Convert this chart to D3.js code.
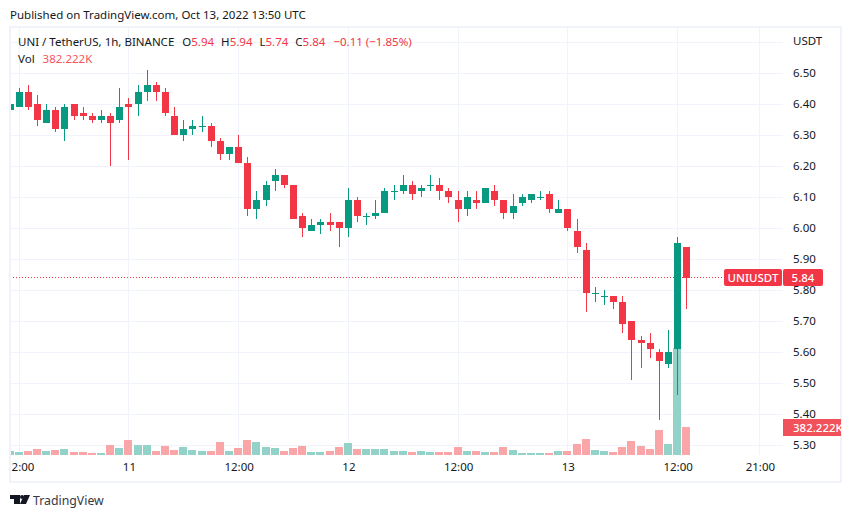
<!DOCTYPE html>
<html>
<head>
<meta charset="utf-8">
<script src="https://cdn.jsdelivr.net/npm/d3@7"></script>
<style>
  html, body { margin: 0; padding: 0; background: #fff; }
  svg { display: block; }
  text { font-family: "Noto Sans", sans-serif; font-size: 11.5px; fill: #131722; }
</style>
</head>
<body>
<svg id="chart" width="851" height="518"></svg>
<script>
// hourly candles, first one is Oct 10 11:00
const opens = [6.38,6.39,6.44,6.40,6.34,6.38,6.32,6.40,6.37,6.36,6.35,6.36,6.35,6.40,6.40,6.44,6.46,6.44,6.36,6.30,6.32,6.33,6.33,6.28,6.24,6.26,6.21,6.06,6.09,6.15,6.17,6.14,6.04,5.99,6.01,6.02,6.02,6.00,6.09,6.04,6.04,6.05,6.12,6.12,6.14,6.12,6.14,6.14,6.12,6.09,6.06,6.09,6.08,6.12,6.09,6.05,6.08,6.09,6.10,6.11,6.05,6.06,5.99,5.93,5.79,5.78,5.78,5.76,5.70,5.64,5.63,5.60,5.56,5.61,5.94];
const highs = [6.42,6.45,6.46,6.43,6.40,6.39,6.40,6.40,6.39,6.37,6.38,6.37,6.45,6.42,6.46,6.51,6.47,6.45,6.39,6.35,6.35,6.36,6.34,6.29,6.26,6.30,6.23,6.12,6.15,6.19,6.17,6.14,6.05,6.03,6.03,6.05,6.02,6.13,6.10,6.05,6.09,6.13,6.14,6.17,6.15,6.14,6.17,6.16,6.13,6.12,6.12,6.12,6.13,6.14,6.09,6.11,6.11,6.11,6.12,6.12,6.09,6.06,6.03,5.95,5.81,5.80,5.78,5.78,5.70,5.65,5.66,5.61,5.67,5.97,5.94];
const lows = [6.37,6.39,6.38,6.33,6.34,6.31,6.28,6.35,6.35,6.34,6.34,6.20,6.34,6.22,6.36,6.41,6.41,6.36,6.30,6.28,6.30,6.31,6.26,6.22,6.22,6.21,6.04,6.03,6.07,6.12,6.13,6.03,5.97,5.99,5.98,5.99,5.94,5.97,6.02,6.01,6.03,6.05,6.09,6.11,6.09,6.10,6.12,6.09,6.08,6.02,6.04,6.06,6.08,6.07,6.03,6.03,6.07,6.08,6.09,6.05,6.05,5.99,5.92,5.73,5.76,5.75,5.74,5.66,5.51,5.55,5.58,5.38,5.55,5.46,5.74];
const closes = [6.40,6.44,6.39,6.35,6.38,6.32,6.39,6.36,6.36,6.35,6.36,6.34,6.39,6.39,6.44,6.46,6.44,6.37,6.30,6.32,6.33,6.33,6.28,6.24,6.26,6.21,6.06,6.09,6.14,6.17,6.14,6.03,6.00,6.01,6.02,6.01,6.00,6.09,6.04,6.04,6.05,6.12,6.12,6.14,6.11,6.13,6.14,6.12,6.10,6.06,6.10,6.08,6.13,6.09,6.05,6.07,6.10,6.11,6.10,6.06,6.06,6.00,5.94,5.79,5.79,5.78,5.76,5.69,5.64,5.63,5.61,5.57,5.60,5.95,5.84];
const volumes = [55,41,55,82,55,68,82,41,41,27,27,137,96,205,137,137,55,123,68,109,68,55,55,177,55,96,205,177,109,96,55,96,123,41,41,55,109,164,82,82,82,82,55,55,41,55,41,41,41,109,55,55,41,41,109,68,27,27,27,27,55,55,150,218,68,55,41,109,191,123,82,341,150,1460,382.222];

const priceTicks = [5.3,5.4,5.5,5.6,5.7,5.8,5.9,6.0,6.1,6.2,6.3,6.4,6.5];
const gridPrices = [...priceTicks, 6.6];
const timeTicks = [1,13,25,37,49,61,73,82];
const timeLabels = ["12:00","11","12:00","12","12:00","13","12:00","21:00"];

const lastPrice = 5.84;
const lastVolume = 382.222;

const green = "#089981", red = "#f23645";
const greenVol = "#92d2c8", redVol = "#faa5a8";
const gridColor = "#f0f3fa";

const svg = d3.select("#chart");

let x = d3.scaleLinear().domain([1, 73]).range([19.2, 677.6]);
let y = d3.scaleLinear().domain([5.3, 6.5]).range([445.5, 73.5]);
let yVol = d3.scaleLinear().domain([0, 1460]).range([455, 348]);

const px = i => Math.floor(x(i)) + 0.5;
const py = p => Math.round(y(p) - 0.5);

// clip for everything in the pane
let defs = svg.append("defs");
defs.append("clipPath").attr("id", "pane")
  .append("rect").attr("x", 10).attr("y", 28).attr("width", 773).attr("height", 427);
defs.append("clipPath").attr("id", "timeClip")
  .append("rect").attr("x", 10).attr("y", 455).attr("width", 773).attr("height", 26);
defs.append("clipPath").attr("id", "volClip")
  .append("rect").attr("x", 783).attr("y", 400).attr("width", 58).attr("height", 50);

// header
svg.append("text").attr("x", 10).attr("y", 19).attr("id", "published")
  .text("Published on TradingView.com, Oct 13, 2022 13:50 UTC");

// grid
let pane = svg.append("g").attr("clip-path", "url(#pane)");
pane.append("g").selectAll("line").data(gridPrices).join("line")
  .attr("x1", 10).attr("x2", 783)
  .attr("y1", d => py(d) + 0.5).attr("y2", d => py(d) + 0.5)
  .attr("stroke", gridColor);
pane.append("g").selectAll("line").data(timeTicks).join("line")
  .attr("x1", d => px(d)).attr("x2", d => px(d))
  .attr("y1", 28).attr("y2", 455)
  .attr("stroke", gridColor);

// volume
pane.append("g").selectAll("rect").data(volumes).join("rect")
  .attr("x", (d, i) => px(i) - 4.5)
  .attr("width", 8)
  .attr("y", d => Math.round(yVol(d)))
  .attr("height", d => 455 - Math.round(yVol(d)))
  .attr("fill", (d, i) => closes[i] >= opens[i] ? greenVol : redVol);

// last price line
pane.append("line")
  .attr("x1", 10).attr("x2", 724)
  .attr("y1", py(lastPrice) - 0.5).attr("y2", py(lastPrice) - 0.5)
  .attr("stroke", red).attr("stroke-dasharray", "1,2");

// candles
let candles = pane.append("g").selectAll("g").data(opens).join("g");
candles.append("line")
  .attr("x1", (d, i) => px(i)).attr("x2", (d, i) => px(i))
  .attr("y1", (d, i) => py(highs[i])).attr("y2", (d, i) => py(lows[i]))
  .attr("stroke", (d, i) => closes[i] >= opens[i] ? green : red);
candles.append("rect")
  .attr("x", (d, i) => px(i) - 3.5)
  .attr("width", 7)
  .attr("y", (d, i) => py(Math.max(opens[i], closes[i])))
  .attr("height", (d, i) => Math.max(1, py(Math.min(opens[i], closes[i])) - py(Math.max(opens[i], closes[i]))))
  .attr("fill", (d, i) => closes[i] >= opens[i] ? green : red);

// price axis
let yAxis = d3.axisRight(y).tickValues(priceTicks).tickFormat(d3.format(".2f")).tickSize(0).tickPadding(0);
let yG = svg.append("g").attr("transform", "translate(793,-1)").call(yAxis);
yG.select(".domain").remove();
yG.selectAll("text").attr("fill", null).style("font-size", "11.5px").style("font-family", null);
svg.append("text").attr("x", 793).attr("y", 45).text("USDT");

// time axis
let xAxis = d3.axisBottom(x).tickValues(timeTicks)
  .tickFormat(d => timeLabels[timeTicks.indexOf(d)]).tickSize(0).tickPadding(0);
let xG = svg.append("g").attr("clip-path", "url(#timeClip)")
  .append("g").attr("transform", "translate(0,463)").call(xAxis);
xG.select(".domain").remove();
xG.selectAll("text").attr("fill", null).style("font-size", "11.5px").style("font-family", null);

// frame
svg.append("rect").attr("x", 10).attr("y", 27).attr("width", 831).attr("height", 455)
  .attr("fill", "none").attr("stroke", gridColor).attr("stroke-width", 2);

// legend
let legend = svg.append("text").attr("x", 18).attr("y", 46);
legend.append("tspan").text("UNI / TetherUS, 1h, BINANCE");
[["O", "5.94"], ["H", "5.94"], ["L", "5.74"], ["C", "5.84"]].forEach((p, i) => {
  legend.append("tspan").attr("dx", i == 0 ? 8 : 7).text(p[0]);
  legend.append("tspan").style("fill", red).text(p[1]);
});
legend.append("tspan").attr("dx", 8).style("fill", red).text("\u22120.11 (\u22121.85%)");

let legend2 = svg.append("text").attr("x", 18).attr("y", 63);
legend2.append("tspan").text("Vol");
legend2.append("tspan").attr("dx", 8).style("fill", "#f7525f").text("382.222K");

// tags on the price axis
svg.append("rect").attr("x", 724).attr("y", 269).attr("width", 58).attr("height", 17).attr("rx", 2).attr("fill", red);
svg.append("rect").attr("x", 783).attr("y", 269).attr("width", 40).attr("height", 17).attr("rx", 2).attr("fill", red);
svg.append("text").attr("x", 753).attr("y", 282).attr("text-anchor", "middle")
  .style("fill", "#fff").style("font-weight", "500").text("UNIUSDT");
svg.append("text").attr("x", 803).attr("y", 282).attr("text-anchor", "middle")
  .style("fill", "#fff").style("font-weight", "500").text(lastPrice.toFixed(2));

svg.append("rect").attr("x", 783).attr("y", 419).attr("width", 58).attr("height", 17).attr("fill", "#f0515a");
svg.append("text").attr("clip-path", "url(#volClip)")
  .attr("x", 793).attr("y", 432)
  .style("fill", "#fff").style("font-weight", "500").text(lastVolume.toFixed(3) + "K");

// logo and footer
let logo = svg.append("g").attr("fill", "#131722");
logo.append("path").attr("d", "M10 495H20V504H14V499H10Z");
logo.append("circle").attr("cx", 22).attr("cy", 497).attr("r", 2);
logo.append("path").attr("d", "M24 495H30L26 504H20Z");
svg.append("text").attr("x", 33).attr("y", 505).style("font-size", "12.3px").style("fill", "#363a45").text("TradingView");
</script>
</body>
</html>
